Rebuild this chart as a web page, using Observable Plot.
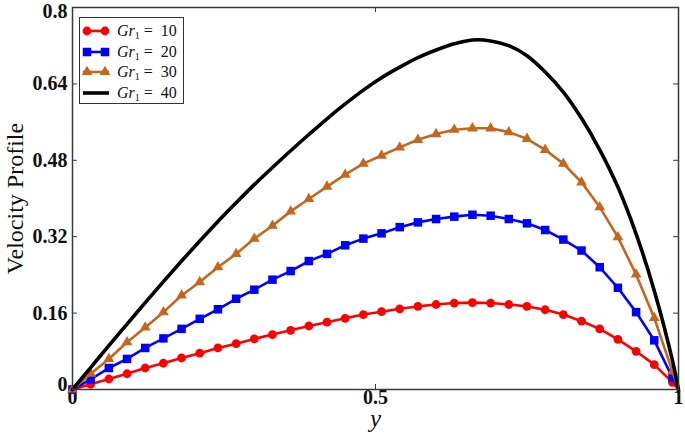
<!DOCTYPE html>
<html>
<head>
<meta charset="utf-8">
<script src="https://cdn.jsdelivr.net/npm/d3@7"></script>
<script src="https://cdn.jsdelivr.net/npm/@observablehq/plot@0.6"></script>
<style>
  html, body { margin: 0; padding: 0; background: #fff; }
  #wrap { position: relative; width: 685px; height: 433px; overflow: hidden; }
  #wrap > svg { position: absolute; left: 0; top: 0; }
  #legend {
    position: absolute; left: 79px; top: 17px; width: 105px; height: 87px;
    box-sizing: border-box; border: 1px solid #333; background: #fff;
    font-family: "Liberation Serif", "Times New Roman", serif; font-size: 16px; color: #111;
  }
  .row { position: absolute; left: 0; height: 20px; display: flex; align-items: center; white-space: nowrap; }
  .row svg { display: block; margin-left: 1px; }
  .row span.t { margin-left: 6px; }
  .row i { font-style: italic; }
  .row sub { font-size: 10px; vertical-align: -3px; line-height: 0; }
</style>
</head>
<body>
<div id="wrap"></div>
<script>
// ---- data ----
const yPos = [0, 0.03, 0.06, 0.09, 0.12, 0.15, 0.18, 0.21, 0.24, 0.27, 0.30, 0.33, 0.36, 0.39, 0.42, 0.45, 0.48,
              0.51, 0.54, 0.57, 0.60, 0.63, 0.66, 0.69, 0.72, 0.75, 0.78, 0.81, 0.84, 0.87, 0.90, 0.93, 0.96, 0.99, 1.00];
const gr10 = [0, 0.011, 0.022, 0.033, 0.045, 0.055, 0.066, 0.076, 0.087, 0.096, 0.106, 0.115, 0.124, 0.133, 0.141, 0.149, 0.157,
              0.163, 0.169, 0.174, 0.178, 0.181, 0.182, 0.181, 0.178, 0.174, 0.167, 0.157, 0.143, 0.127, 0.105, 0.080, 0.052, 0.015, 0];
const gr20 = [0, 0.021, 0.045, 0.064, 0.087, 0.107, 0.127, 0.148, 0.168, 0.190, 0.209, 0.230, 0.248, 0.269, 0.284, 0.302, 0.316,
              0.327, 0.340, 0.350, 0.357, 0.362, 0.366, 0.364, 0.357, 0.348, 0.334, 0.314, 0.291, 0.256, 0.213, 0.162, 0.103, 0.025, 0];
const gr30 = [0, 0.033, 0.064, 0.099, 0.130, 0.162, 0.197, 0.225, 0.256, 0.284, 0.316, 0.343, 0.373, 0.399, 0.425, 0.450, 0.473,
              0.490, 0.507, 0.523, 0.535, 0.544, 0.547, 0.547, 0.539, 0.525, 0.502, 0.473, 0.434, 0.382, 0.319, 0.241, 0.150, 0.038, 0];
const gr40 = [0, 0.046, 0.092, 0.137, 0.182, 0.226, 0.269, 0.311, 0.352, 0.391, 0.429, 0.465, 0.500, 0.534, 0.567, 0.598, 0.627,
              0.653, 0.675, 0.695, 0.711, 0.724, 0.732, 0.730, 0.720, 0.699, 0.665, 0.623, 0.568, 0.502, 0.424, 0.326, 0.207, 0.061, 0];
const seriesNames = ["10", "20", "30", "40"];
const seriesColors = ["#ff0000", "#0000ff", "#c4661c", "#000000"];
const yTicks = [0, 0.16, 0.32, 0.48, 0.64, 0.8];
const yTickLabels = ["0", "0.16", "0.32", "0.48", "0.64", "0.8"];
const xTicks = [0, 0.5, 1];
const xTickLabels = ["0", "0.5", "1"];
const xLabel = "y";
const yLabel = "Velocity Profile";

// ---- build table ----
const allSeries = [gr10, gr20, gr30, gr40];
const table = [];
allSeries.forEach((vals, s) => vals.forEach((v, i) => table.push({series: seriesNames[s], pos: yPos[i], vel: v})));
const bySeries = name => table.filter(d => d.series === name);
const markersOf = name => table.filter(d => d.series === name && d.pos < 1);

const frameColor = "#3a3a3a";
const plotW = 685 - 72 - 7, plotH = 433 - 7 - 44;
const tickLen = 5;
const yFmt = d => yTickLabels[yTicks.indexOf(d)];
const yAxisStyle = {tickSize: 0, tickPadding: 5, tickFormat: yFmt, fontSize: 20, fontWeight: "bold", label: null};

const chart = Plot.plot({
  width: 685, height: 433,
  marginLeft: 72, marginRight: 7, marginTop: 7, marginBottom: 44,
  x: {domain: [0, 1]},
  y: {domain: [0, 0.8]},
  color: {domain: seriesNames, range: seriesColors},
  style: {fontFamily: "'Liberation Serif', 'Times New Roman', serif", background: "white", color: "#111"},
  marks: [
    Plot.axisY({...yAxisStyle, ticks: yTicks.slice(1, -1)}),
    Plot.axisY({...yAxisStyle, ticks: yTicks.slice(-1), dy: 4}),
    Plot.axisY({...yAxisStyle, ticks: yTicks.slice(0, 1), dy: -5}),
    Plot.axisX({ticks: xTicks, tickSize: 0, tickPadding: 0, tickFormat: d => xTickLabels[xTicks.indexOf(d)],
                fontSize: 20, fontWeight: "bold", label: null}),
    Plot.tickY(yTicks, {insetRight: plotW - tickLen, stroke: frameColor}),
    Plot.tickY(yTicks, {insetLeft: plotW - tickLen, stroke: frameColor}),
    Plot.tickX(xTicks, {insetTop: plotH - tickLen, stroke: frameColor}),
    Plot.tickX(xTicks, {insetBottom: plotH - tickLen, stroke: frameColor}),
    Plot.line(bySeries("10"), {x: "pos", y: "vel", stroke: "series", strokeWidth: 2.6}),
    Plot.dot(markersOf("10"), {x: "pos", y: "vel", fill: "series", symbol: "circle", r: 4.4}),
    Plot.line(bySeries("20"), {x: "pos", y: "vel", stroke: "series", strokeWidth: 2.6}),
    Plot.dot(markersOf("20"), {x: "pos", y: "vel", fill: "series", symbol: "square", r: 4.8}),
    Plot.line(bySeries("30"), {x: "pos", y: "vel", stroke: "series", strokeWidth: 2.6}),
    Plot.dot(markersOf("30"), {x: "pos", y: "vel", fill: "series", symbol: "triangle", r: 4.0}),
    Plot.line(bySeries("40"), {x: "pos", y: "vel", stroke: "series", strokeWidth: 3.6, curve: "catmull-rom"}),
    Plot.frame({stroke: frameColor, strokeWidth: 1.5}),
    Plot.text([yLabel], {frameAnchor: "left", textAnchor: "middle", lineAnchor: "middle", rotate: -90, dx: -57,
                         fontSize: 24, fill: "#111"}),
    Plot.text([xLabel], {frameAnchor: "bottom", textAnchor: "middle", lineAnchor: "middle", dy: 29,
                         fontSize: 25, fontStyle: "italic", fill: "#111"})
  ]
});

const wrap = document.getElementById("wrap");
wrap.appendChild(chart);

// ---- legend ----
const legend = document.createElement("div");
legend.id = "legend";
const symbols = [d3.symbolCircle, d3.symbolSquare, d3.symbolTriangle, null];
const symR = [4.4, 4.8, 4.0, 0];
const rowTops = [3, 24, 44, 65];
seriesNames.forEach((name, i) => {
  const row = document.createElement("div");
  row.className = "row";
  row.style.top = rowTops[i] + "px";
  const sw = d3.create("svg").attr("width", 30).attr("height", 16);
  sw.append("line").attr("x1", 2).attr("x2", 28).attr("y1", 8).attr("y2", 8)
    .attr("stroke", seriesColors[i]).attr("stroke-width", i === 3 ? 3.6 : 2.6);
  if (symbols[i]) {
    const p = d3.symbol(symbols[i], Math.PI * symR[i] * symR[i])();
    [6, 24].forEach(cx => sw.append("path").attr("d", p).attr("transform", `translate(${cx},8)`).attr("fill", seriesColors[i]));
  }
  row.appendChild(sw.node());
  const t = document.createElement("span");
  t.className = "t";
  t.innerHTML = `<i>Gr</i><sub>1</sub>&nbsp;=&nbsp; ${name}`;
  row.appendChild(t);
  legend.appendChild(row);
});
wrap.appendChild(legend);
</script>
</body>
</html>
